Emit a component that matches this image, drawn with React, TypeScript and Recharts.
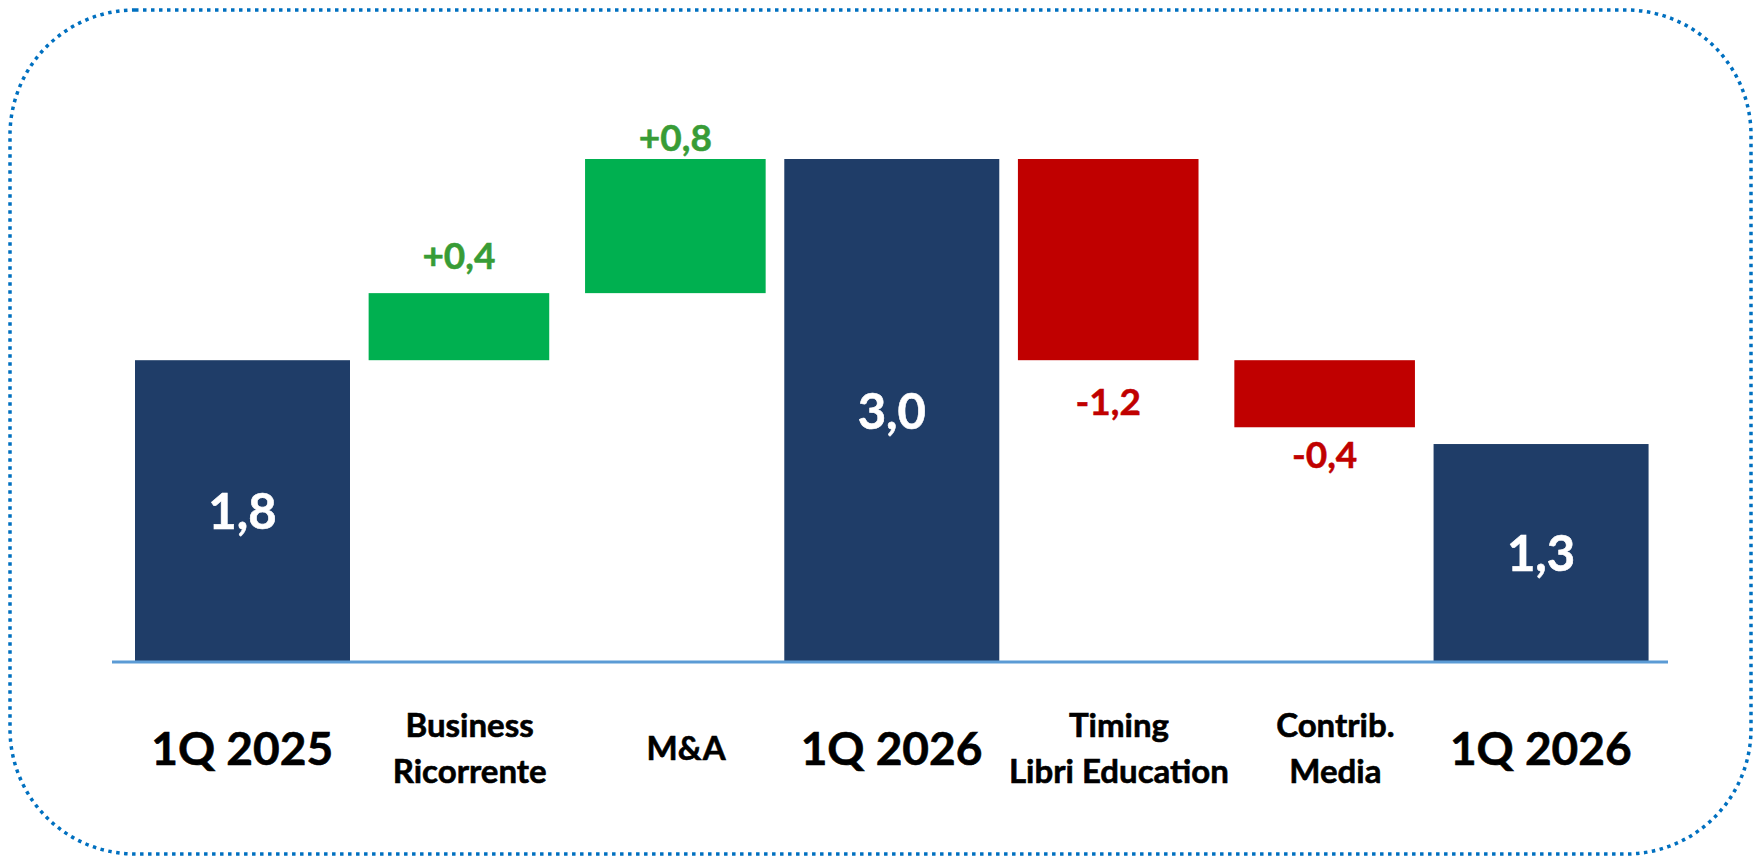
import React from 'react';
import { BarChart, Bar, XAxis, YAxis, LabelList } from 'recharts';

// waterfall steps
const categories = [
  ['1Q 2025'],
  ['Business', 'Ricorrente'],
  ['M&A'],
  ['1Q 2026'],
  ['Timing', 'Libri Education'],
  ['Contrib.', 'Media'],
  ['1Q 2026'],
];
const stepTypes = ['total', 'delta', 'delta', 'total', 'delta', 'delta', 'total'];
const stepValues = [1.8, 0.4, 0.8, 3.0, -1.2, -0.4, 1.3];

// label distance from bar edge (px), excel labels were nudged by hand
const labelGap = [0, 37, 21, 0, 42, 28, 0];

const NAVY = '#1f3d68';
const GREEN = '#00b050';
const RED = '#c00000';
const GREEN_TEXT = '#389c36';
const FONT = 'Lato, "Open Sans", sans-serif';

let running = 0;
const chartData = categories.map((_, i) => {
  const v = stepValues[i];
  let range: number[];
  if (stepTypes[i] === 'total') {
    range = [0, v];
    running = v;
  } else {
    const start = running;
    running = Math.round((start + v) * 100) / 100;
    range = [Math.min(start, running), Math.max(start, running)];
  }
  return { key: `c${i}`, range };
});

const fmt = (v: number, signed: boolean) =>
  (signed && v > 0 ? '+' : '') + v.toFixed(1).replace('.', ',');

const StepShape = (props: any) => {
  const { x, y, width, height, index } = props;
  const isTotal = stepTypes[index] === 'total';
  const w = isTotal ? width : width * 0.84;
  const fill = isTotal ? NAVY : stepValues[index] > 0 ? GREEN : RED;
  return <rect x={x + (width - w) / 2} y={y} width={w} height={height} fill={fill} />;
};

const StepLabel = (props: any) => {
  const { x, y, width, height, index } = props;
  const v = stepValues[index];
  const cx = x + width / 2;
  if (stepTypes[index] === 'total') {
    return (
      <text x={cx} y={y + height / 2 + 18} textAnchor="middle" fill="#fff"
        stroke="#fff" strokeWidth={0.6}
        fontFamily={FONT} fontWeight={700} fontSize={49}>
        {fmt(v, false)}
      </text>
    );
  }
  const col = v > 0 ? GREEN_TEXT : RED;
  const ty = v > 0 ? y - labelGap[index] + 13 : y + height + labelGap[index] + 13;
  return (
    <text x={cx} y={ty} textAnchor="middle" fill={col} stroke={col} strokeWidth={0.5}
      fontFamily={FONT} fontWeight={700} fontSize={37}>
      {fmt(v, true)}
    </text>
  );
};

const CategoryTick = (props: any) => {
  const { x, y, payload } = props;
  const index = props.index ?? payload.index;
  const lines = categories[index];
  const isTotal = stepTypes[index] === 'total';
  const size = isTotal ? 46 : 33;
  const dx = isTotal ? 0 : 11;
  const lineGap = 46;
  const first = y + 86 + 0.36 * size - ((lines.length - 1) * lineGap) / 2;
  return (
    <text textAnchor="middle" fill="#000" stroke="#000" strokeWidth={0.6}
      fontFamily={FONT} fontWeight={700} fontSize={size}>
      {lines.map((l, i) => (
        <tspan key={i} x={x + dx} y={first + i * lineGap}>{l}</tspan>
      ))}
    </text>
  );
};

export default function App() {
  return (
    <div style={{ position: 'absolute', left: 0, top: 0, width: 1754, height: 856, background: '#fff' }}>
      <BarChart
        width={1754}
        height={856}
        data={chartData}
        margin={{ top: 159, right: 86, bottom: 44, left: 112 }}
        barCategoryGap={0}
      >
        <XAxis
          dataKey="key"
          height={150}
          interval={0}
          axisLine={{ stroke: '#5b9bd5', strokeWidth: 3 }}
          tickLine={false}
          tickSize={0}
          tickMargin={0}
          padding={{ left: 22, right: 19 }}
          tick={<CategoryTick />}
        />
        <YAxis hide domain={[0, 3]} tickCount={4} />
        <Bar dataKey="range" barSize={215} isAnimationActive={false} shape={<StepShape />}>
          <LabelList dataKey="range" content={<StepLabel />} />
        </Bar>
      </BarChart>
      <svg width={1754} height={856} style={{ position: 'absolute', left: 0, top: 0, pointerEvents: 'none' }}>
        <rect x={10} y={10} width={1741} height={844} rx={125} ry={125}
          fill="none" stroke="#0070c0" strokeWidth={3.5} strokeDasharray="3.5 4.5" />
      </svg>
    </div>
  );
}
